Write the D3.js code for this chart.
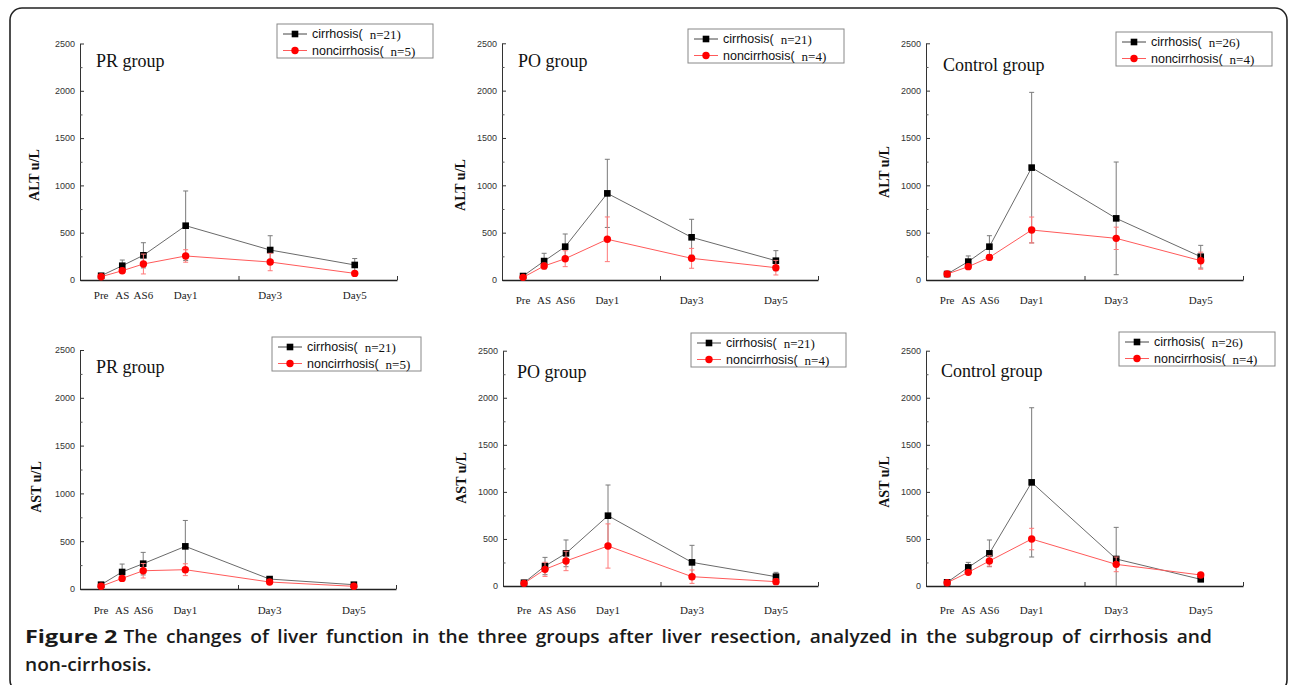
<!DOCTYPE html>
<html>
<head>
<meta charset="utf-8">
<script src="https://cdn.jsdelivr.net/npm/d3@7"></script>
<style>
	body { margin: 0; background: #fff; }
	svg { display: block; }
</style>
</head>
<body>
<svg id="svg-port" width="1290" height="685"></svg>
<script>
// time points, x positions are in "steps" (Pre=0, AS=1, AS6=2, Day1=4 ...)
var categories = ['Pre', 'AS', 'AS6', 'Day1', 'Day3', 'Day5'];
var catSteps = [0, 1, 2, 4, 8, 12];
var yTicks = [0, 500, 1000, 1500, 2000, 2500];
var yMinorTicks = [250, 750, 1250, 1750, 2250];

// ALT
var altPrCir = [45, 151, 261, 574, 317, 159], altPrCirSd = [15, 60, 133, 367, 151, 68];
var altPrNon = [35, 98, 169, 254, 190, 70], altPrNonSd = [10, 25, 105, 66, 92, 20];
var altPoCir = [42, 200, 352, 915, 451, 204], altPoCirSd = [15, 82, 134, 360, 190, 106];
var altPoNon = [28, 148, 225, 430, 229, 130], altPoNonSd = [10, 30, 84, 236, 105, 77];
var altCoCir = [63, 194, 352, 1187, 651, 246], altCoCirSd = [20, 60, 116, 795, 595, 120];
var altCoNon = [63, 141, 239, 528, 440, 204], altCoNonSd = [20, 25, 30, 137, 118, 90];
// AST
var astPrCir = [45, 178, 265, 446, 104, 45], astPrCirSd = [10, 83, 118, 271, 20, 10];
var astPrNon = [28, 111, 191, 202, 73, 28], astPrNonSd = [8, 25, 76, 62, 15, 8];
var astPoCir = [35, 212, 347, 747, 251, 99], astPoCirSd = [10, 92, 142, 326, 181, 46];
var astPoNon = [28, 177, 266, 425, 99, 46], astPoNonSd = [8, 75, 103, 235, 71, 30];
var astCoCir = [39, 198, 347, 1101, 287, 71], astCoCirSd = [10, 53, 142, 793, 336, 20];
var astCoNon = [35, 145, 266, 499, 230, 117], astCoNonSd = [10, 20, 55, 114, 78, 20];

var groupNames = ['PR group', 'PO group', 'Control group'];
var cirN = ['n=21)', 'n=21)', 'n=26)'];
var nonN = ['n=5)', 'n=4)', 'n=4)'];

var captionLabel = 'Figure 2';
var caption1 = 'The changes of liver function in the three groups after liver resection, analyzed in the subgroup of cirrhosis and';
var caption2 = 'non-cirrhosis.';

// panel boxes (pixel layout, measured on the figure)
var panels = [
	{ title: groupNames[0], yLabel: 'ALT u/L', cir: altPrCir, cirSd: altPrCirSd, non: altPrNon, nonSd: altPrNonSd, nC: cirN[0], nN: nonN[0],
		x0: 80, x1: 397, y0: 280, y1: 43.5, tx: 96, ty: 67, lx: 277, ly: 24, lw: 156, labX: 34, labY: 175, catY: 299 },
	{ title: groupNames[1], yLabel: 'ALT u/L', cir: altPoCir, cirSd: altPoCirSd, non: altPoNon, nonSd: altPoNonSd, nC: cirN[1], nN: nonN[1],
		x0: 502, x1: 818, y0: 280, y1: 43.3, tx: 518, ty: 67, lx: 688, ly: 29, lw: 156, labX: 460, labY: 185, catY: 304 },
	{ title: groupNames[2], yLabel: 'ALT u/L', cir: altCoCir, cirSd: altCoCirSd, non: altCoNon, nonSd: altCoNonSd, nC: cirN[2], nN: nonN[2],
		x0: 926, x1: 1243, y0: 280, y1: 43.3, tx: 943, ty: 71, lx: 1116, ly: 32, lw: 156, labX: 884, labY: 172, catY: 304 },
	{ title: groupNames[0], yLabel: 'AST u/L', cir: astPrCir, cirSd: astPrCirSd, non: astPrNon, nonSd: astPrNonSd, nC: cirN[0], nN: nonN[0],
		x0: 80, x1: 396, y0: 589, y1: 350, tx: 96, ty: 373, lx: 272, ly: 337, lw: 149, labX: 36, labY: 487, catY: 614 },
	{ title: groupNames[1], yLabel: 'AST u/L', cir: astPoCir, cirSd: astPoCirSd, non: astPoNon, nonSd: astPoNonSd, nC: cirN[1], nN: nonN[1],
		x0: 503, x1: 818, y0: 586, y1: 350.7, tx: 517, ty: 378, lx: 691, ly: 333, lw: 155, labX: 461, labY: 478, catY: 614 },
	{ title: groupNames[2], yLabel: 'AST u/L', cir: astCoCir, cirSd: astCoCirSd, non: astCoNon, nonSd: astCoNonSd, nC: cirN[2], nN: nonN[2],
		x0: 926, x1: 1243, y0: 586, y1: 350.7, tx: 941, ty: 377, lx: 1119, ly: 332, lw: 156, labX: 884, labY: 482, catY: 614 }
];

var black = { line: '#6a6a6a', err: '#7a7a7a', mark: '#000' };
var red = { line: '#ff5a5a', err: '#ff7878', mark: '#ff0000' };

var svg = d3.select('#svg-port');

// outer frame
svg.append('rect')
	.attr('x', 10).attr('y', 8)
	.attr('width', 1277).attr('height', 684)
	.attr('rx', 12)
	.attr('fill', 'none')
	.attr('stroke', '#222')
	.attr('stroke-width', 1.6);

panels.forEach(function (p) {
	drawPanel(p);
});

function drawPanel(p) {
	var g = svg.append('g');

	var xScale = d3.scaleLinear().domain([-1, 14]).range([p.x0, p.x1]);
	var yScale = d3.scaleLinear().domain([0, 2500]).range([p.y0, p.y1]);

	// y axis, ticks point inwards
	var yAxis = d3.axisLeft(yScale).tickValues(yTicks).tickFormat(d3.format('d'))
		.tickSize(-4).tickSizeOuter(0).tickPadding(5);
	var yg = g.append('g').attr('transform', 'translate(' + [p.x0, 0] + ')').call(yAxis);
	yg.select('.domain').attr('stroke', '#333');
	yg.selectAll('line').attr('stroke', '#333');
	yg.selectAll('text')
		.attr('font-family', 'Arial, "Liberation Sans", sans-serif')
		.attr('font-size', 9)
		.attr('fill', '#333');

	var yMinor = d3.axisLeft(yScale).tickValues(yMinorTicks).tickSize(-2.5).tickFormat('');
	var ym = g.append('g').attr('transform', 'translate(' + [p.x0, 0] + ')').call(yMinor);
	ym.select('.domain').remove();
	ym.selectAll('line').attr('stroke', '#555');

	// x axis
	var xAxis = d3.axisBottom(xScale).tickValues([6.5, 14]).tickSize(-4).tickSizeOuter(0).tickFormat('');
	var xg = g.append('g').attr('transform', 'translate(' + [0, p.y0] + ')').call(xAxis);
	xg.select('.domain').attr('stroke', '#222').attr('stroke-width', 1.4);
	xg.selectAll('line').attr('stroke', '#333');

	g.append('g').selectAll('text')
		.data(categories)
		.enter()
		.append('text')
		.attr('x', function (d, i) { return xScale(catSteps[i]); })
		.attr('y', p.catY)
		.attr('text-anchor', 'middle')
		.attr('font-family', '"Liberation Serif", "Times New Roman", serif')
		.attr('font-size', 11)
		.attr('fill', '#222')
		.text(function (d) { return d; });

	// axis title
	g.append('text')
		.attr('transform', 'translate(' + [p.labX, p.labY] + ') rotate(-90)')
		.attr('text-anchor', 'middle')
		.attr('dominant-baseline', 'central')
		.attr('font-family', '"Liberation Serif", "Times New Roman", serif')
		.attr('font-weight', 'bold')
		.attr('font-size', 14)
		.attr('fill', '#111')
		.text(p.yLabel);

	g.append('text')
		.attr('x', p.tx).attr('y', p.ty)
		.attr('font-family', '"Liberation Serif", "Times New Roman", serif')
		.attr('font-size', 18)
		.attr('fill', '#111')
		.text(p.title);

	drawSeries(g, xScale, yScale, p.cir, p.cirSd, black, 'square');
	drawSeries(g, xScale, yScale, p.non, p.nonSd, red, 'circle');

	drawLegend(g, p);
}

function drawSeries(g, xScale, yScale, means, sds, col, shape) {
	var pts = means.map(function (m, i) {
		return { x: catSteps[i], y: m, sd: sds[i] };
	});

	///error bars
	var eb = g.append('g').attr('stroke', col.err).attr('stroke-width', 1);
	pts.forEach(function (d) {
		var lo = Math.max(0, d.y - d.sd), hi = d.y + d.sd;
		var cx = xScale(d.x);
		eb.append('line').attr('x1', cx).attr('x2', cx).attr('y1', yScale(lo)).attr('y2', yScale(hi));
		eb.append('line').attr('x1', cx - 2.5).attr('x2', cx + 2.5).attr('y1', yScale(hi)).attr('y2', yScale(hi));
		if (d.y - d.sd > 0)
			eb.append('line').attr('x1', cx - 2.5).attr('x2', cx + 2.5).attr('y1', yScale(lo)).attr('y2', yScale(lo));
	});

	var line = d3.line()
		.x(function (d) { return xScale(d.x); })
		.y(function (d) { return yScale(d.y); });

	g.append('path')
		.datum(pts)
		.attr('d', line)
		.attr('fill', 'none')
		.attr('stroke', col.line)
		.attr('stroke-width', 1);

	if (shape === 'square') {
		g.append('g').selectAll('rect')
			.data(pts)
			.enter()
			.append('rect')
			.attr('x', function (d) { return xScale(d.x) - 3.3; })
			.attr('y', function (d) { return yScale(d.y) - 3.3; })
			.attr('width', 6.6)
			.attr('height', 6.6)
			.attr('fill', col.mark);
	} else {
		g.append('g').selectAll('circle')
			.data(pts)
			.enter()
			.append('circle')
			.attr('cx', function (d) { return xScale(d.x); })
			.attr('cy', function (d) { return yScale(d.y); })
			.attr('r', 3.7)
			.attr('fill', col.mark);
	}
}

function drawLegend(g, p) {
	var lg = g.append('g').attr('transform', 'translate(' + [p.lx, p.ly] + ')');
	lg.append('rect')
		.attr('width', p.lw).attr('height', 34)
		.attr('fill', '#fff')
		.attr('stroke', '#888')
		.attr('stroke-width', 1);

	var rows = [
		{ name: 'cirrhosis(', n: p.nC, col: black, shape: 'square', y: 10 },
		{ name: 'noncirrhosis(', n: p.nN, col: red, shape: 'circle', y: 26.5 }
	];
	rows.forEach(function (r) {
		lg.append('line')
			.attr('x1', 6).attr('x2', 30)
			.attr('y1', r.y).attr('y2', r.y)
			.attr('stroke', r.col.line === black.line ? '#444' : r.col.line)
			.attr('stroke-width', 1);
		if (r.shape === 'square')
			lg.append('rect').attr('x', 14.7).attr('y', r.y - 3.3).attr('width', 6.6).attr('height', 6.6).attr('fill', r.col.mark);
		else
			lg.append('circle').attr('cx', 18).attr('cy', r.y).attr('r', 3.7).attr('fill', r.col.mark);

		var t = lg.append('text')
			.attr('x', 35).attr('y', r.y)
			.attr('dominant-baseline', 'central')
			.attr('fill', '#111');
		t.append('tspan')
			.attr('font-family', 'Arial, "Liberation Sans", sans-serif')
			.attr('font-size', 12.5)
			.text(r.name);
		t.append('tspan')
			.attr('dx', 7)
			.attr('font-family', '"Liberation Serif", "Times New Roman", serif')
			.attr('font-size', 13)
			.text(r.n);
	});
}

// caption: "Figure 2" is set wide and bold, the rest is fitted (and justified)
// to the right edge of the text block
var capLeft = 25, capRight = 1212, capY1 = 643, capY2 = 671;
var labelStretch = 1.3, gap = 3.5;

var labG = svg.append('g').attr('transform', 'translate(' + [capLeft, 0] + ') scale(' + labelStretch + ',1)');
var lab = labG.append('text')
	.attr('y', capY1)
	.attr('font-family', '"Open Sans", sans-serif')
	.attr('font-size', 18)
	.attr('font-weight', 700)
	.attr('fill', '#1a1a1a')
	.text(captionLabel);
var restLeft = capLeft + lab.node().getComputedTextLength() * labelStretch + 6;

var restG = svg.append('g');
var rest = restG.append('text')
	.attr('y', capY1)
	.attr('font-family', '"Open Sans", sans-serif')
	.attr('font-size', 18)
	.attr('font-weight', 600)
	.attr('fill', '#1a1a1a')
	.text(caption1);
var natural = rest.node().getComputedTextLength();
var spaces = (caption1.match(/ /g) || []).length;
var restStretch = (capRight - restLeft - spaces * gap) / natural;
restG.attr('transform', 'translate(' + [restLeft, 0] + ') scale(' + restStretch + ',1)');
rest.attr('word-spacing', gap / restStretch);

svg.append('g')
	.attr('transform', 'translate(' + [capLeft, 0] + ') scale(' + restStretch + ',1)')
	.append('text')
	.attr('y', capY2)
	.attr('font-family', '"Open Sans", sans-serif')
	.attr('font-size', 18)
	.attr('font-weight', 600)
	.attr('fill', '#1a1a1a')
	.text(caption2);
</script>
</body>
</html>
